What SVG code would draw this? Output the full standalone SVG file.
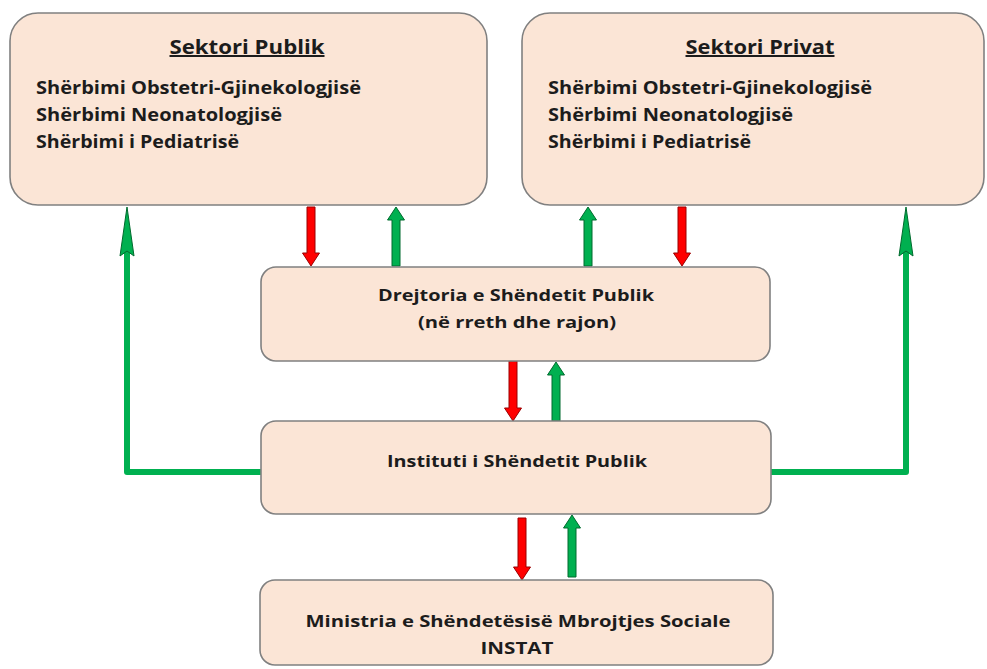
<svg xmlns="http://www.w3.org/2000/svg" width="987" height="669" viewBox="0 0 987 669">
<style>
  .box { fill: #FBE5D6; stroke: #808080; stroke-width: 1.6; }
  .t { font-family: "Open Sans", "Liberation Sans", sans-serif; font-weight: bold; fill: #1c1c1c; }
  .title { font-size: 20px; text-decoration: underline; text-anchor: middle; }
  .item { font-size: 17px; }
  .mid { font-size: 16.5px; text-anchor: middle; }
  .red { fill: #FF0000; stroke: #9A0000; stroke-width: 1; }
  .grn { fill: #00B050; stroke: #006B2E; stroke-width: 1; }
  .line { fill: none; stroke: #00B050; stroke-width: 6; stroke-linejoin: round; }
</style>
<rect width="987" height="669" fill="#FFFFFF"/>
<g id="connectors">
  <path class="line" d="M261,472 H127 V250"/>
  <polygon class="grn" points="127,207 134,256 127,251 120,256"/>
  <path class="line" d="M771,472 H906 V250"/>
  <polygon class="grn" points="906,207 913,256 906,251 899,256"/>
  <polygon class="red" points="307,207 315,207 315,253 319.5,253 311,266 302.5,253 307,253"/>
  <polygon class="grn" points="392,266 400,266 400,220 404.5,220 396,207 387.5,220 392,220"/>
  <polygon class="grn" points="584,266 592,266 592,220 596.5,220 588,207 579.5,220 584,220"/>
  <polygon class="red" points="678,207 686,207 686,253 690.5,253 682,266 673.5,253 678,253"/>
  <polygon class="red" points="509,361 517,361 517,408 521.5,408 513,421 504.5,408 509,408"/>
  <polygon class="grn" points="552,421 560,421 560,375 564.5,375 556,362 547.5,375 552,375"/>
  <polygon class="red" points="518,518 526,518 526,567 530.5,567 522,580 513.5,567 518,567"/>
  <polygon class="grn" points="568,577 576,577 576,528 580.5,528 572,515 563.5,528 568,528"/>
</g>
<g id="sektori-publik">
  <rect class="box" x="10" y="13" width="477" height="192" rx="28"/>
  <text class="t title" x="247" y="54" textLength="155" lengthAdjust="spacingAndGlyphs">Sektori Publik</text>
  <text class="t item" x="36" y="94" textLength="325" lengthAdjust="spacingAndGlyphs">Shërbimi Obstetri-Gjinekologjisë</text>
  <text class="t item" x="36" y="121" textLength="246" lengthAdjust="spacingAndGlyphs">Shërbimi Neonatologjisë</text>
  <text class="t item" x="36" y="148" textLength="203" lengthAdjust="spacingAndGlyphs">Shërbimi i Pediatrisë</text>
</g>
<g id="sektori-privat">
  <rect class="box" x="522" y="13" width="462" height="192" rx="28"/>
  <text class="t title" x="760" y="54" textLength="149" lengthAdjust="spacingAndGlyphs">Sektori Privat</text>
  <text class="t item" x="548" y="94" textLength="324" lengthAdjust="spacingAndGlyphs">Shërbimi Obstetri-Gjinekologjisë</text>
  <text class="t item" x="548" y="121" textLength="245" lengthAdjust="spacingAndGlyphs">Shërbimi Neonatologjisë</text>
  <text class="t item" x="548" y="148" textLength="203" lengthAdjust="spacingAndGlyphs">Shërbimi i Pediatrisë</text>
</g>
<g id="drejtoria">
  <rect class="box" x="261" y="267" width="509" height="94" rx="15"/>
  <text class="t mid" x="516" y="301" textLength="276" lengthAdjust="spacingAndGlyphs">Drejtoria e Shëndetit Publik</text>
  <text class="t mid" x="517" y="328" textLength="198" lengthAdjust="spacingAndGlyphs">(në rreth dhe rajon)</text>
</g>
<g id="instituti">
  <rect class="box" x="261" y="421" width="510" height="93" rx="15"/>
  <text class="t mid" x="517" y="467" textLength="260" lengthAdjust="spacingAndGlyphs">Instituti i Shëndetit Publik</text>
</g>
<g id="ministria">
  <rect class="box" x="260" y="580" width="513" height="85" rx="15"/>
  <text class="t mid" x="518" y="627" textLength="425" lengthAdjust="spacingAndGlyphs">Ministria e Shëndetësisë Mbrojtjes Sociale</text>
  <text class="t mid" x="517" y="654" textLength="73" lengthAdjust="spacingAndGlyphs">INSTAT</text>
</g>
</svg>
